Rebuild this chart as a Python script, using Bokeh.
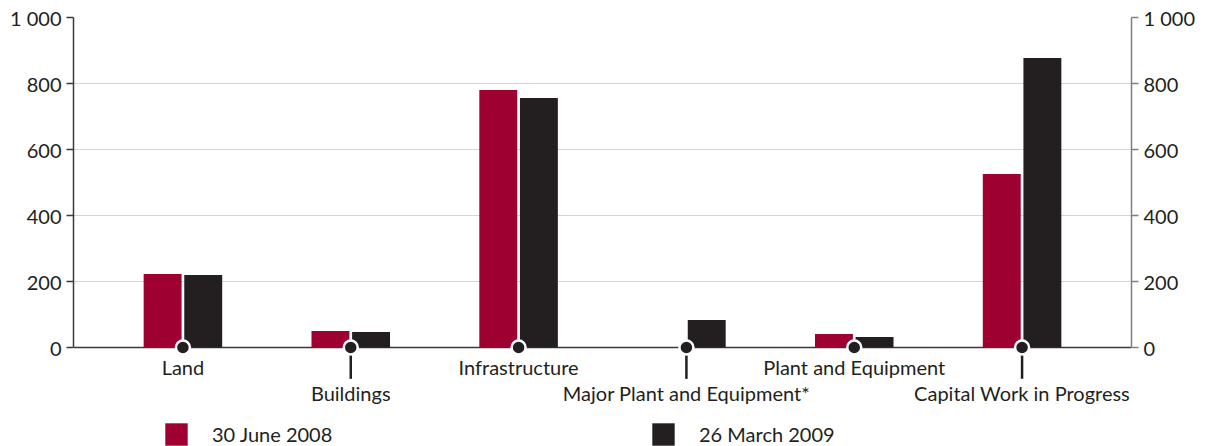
from bokeh.plotting import figure
from bokeh.models import (Range1d, LinearAxis, FixedTicker, Legend, Grid,
                          LegendItem, ColumnDataSource)
from bokeh.core.properties import value
from bokeh.embed import file_html
from bokeh.resources import INLINE

# Asset classes and their values ($ million) at the two reporting dates
categories = ["Land", "Buildings", "Infrastructure", "Major Plant and Equipment*",
              "Plant and Equipment", "Capital Work in Progress"]
june_2008 = [223, 50, 780, 0, 41, 526]
march_2009 = [220, 47, 756, 83, 32, 877]
series_names = ["30 June 2008", "26 March 2009"]
y_ticks = [0, 200, 400, 600, 800, 1000]
y_tick_labels = ["0", "200", "400", "600", "800", "1 000"]

RED = "#9e0031"
BLACK = "#231f20"
FONT = "Lato"
TEXT = "#231f20"
FS = "20px"

n = len(categories)
xs = list(range(n))
offset = 0.121
bar_w = 0.226

p = figure(width=1206, height=446, output_backend="svg", toolbar_location=None,
           x_axis_type=None, y_axis_location=None,
           x_range=Range1d(-0.652, n - 1 + 0.652),
           y_range=Range1d(-300, 1000),
           min_border_left=73, min_border_right=75,
           min_border_top=17, min_border_bottom=0)
p.outline_line_color = None
p.background_fill_color = "white"
p.border_fill_color = "white"
p.xgrid.visible = False
p.ygrid.visible = False

# horizontal gridlines above the baseline
grid = Grid(dimension=1, ticker=FixedTicker(ticks=y_ticks[1:]), bounds=(200, 1000),
            grid_line_color="#d4d4d4", grid_line_width=1.2)
p.add_layout(grid)

tick_map = {t: l for t, l in zip(y_ticks, y_tick_labels)}

def make_axis(line_color):
    return LinearAxis(bounds=(0, 1000), ticker=FixedTicker(ticks=y_ticks),
                      major_label_overrides=tick_map,
                      axis_line_color=line_color, axis_line_width=1.5,
                      major_tick_line_color=line_color, major_tick_line_width=1.5,
                      major_tick_out=7, major_tick_in=0,
                      minor_tick_line_color=None,
                      major_label_text_font=FONT, major_label_text_font_size=FS,
                      major_label_text_color=TEXT, major_label_standoff=5)

p.add_layout(make_axis("#3a3a3a"), "left")
p.add_layout(make_axis("#808080"), "right")

# baseline at zero
p.segment(x0=[-0.652], y0=[0], x1=[n - 1 + 0.652], y1=[0],
          line_color="#3a3a3a", line_width=1.5)

src = ColumnDataSource(dict(
    x=xs, cat=categories, a=june_2008, b=march_2009,
    xa=[x - offset for x in xs], xb=[x + offset for x in xs]))

r1 = p.vbar(x="xa", top="a", bottom=0, width=bar_w, source=src,
            fill_color=RED, line_color=None)
r2 = p.vbar(x="xb", top="b", bottom=0, width=bar_w, source=src,
            fill_color=BLACK, line_color=None)

# leader stems for the staggered (lower) labels
low = [i for i in xs if i % 2 == 1]
high = [i for i in xs if i % 2 == 0]
p.segment(x0=low, y0=[0] * len(low), x1=low, y1=[-95] * len(low),
          line_color=BLACK, line_width=2.5)

# category markers on the baseline
p.scatter(x=xs, y=[0] * n, size=14, marker="circle", fill_color=BLACK,
          line_color="white", line_width=2.5)

p.text(x=high, y=[-58] * len(high), text=[categories[i] for i in high],
       text_align="center", text_baseline="middle", text_font=value(FONT),
       text_font_size=FS, text_color=TEXT)
p.text(x=low, y=[-138] * len(low), text=[categories[i] for i in low],
       text_align="center", text_baseline="middle", text_font=value(FONT),
       text_font_size=FS, text_color=TEXT)

def legend_at(renderer, label, xpos):
    lg = Legend(items=[LegendItem(label=label, renderers=[renderer])],
                location=(xpos, -2), orientation="horizontal",
                glyph_width=28, glyph_height=28, label_standoff=22,
                padding=0, margin=0, spacing=0,
                border_line_color=None, background_fill_alpha=0,
                label_text_font=FONT, label_text_font_size=FS,
                label_text_color=TEXT, label_height=28)
    p.add_layout(lg, "center")

legend_at(r1, series_names[0], 89)
legend_at(r2, series_names[1], 576)

open("out.html", "w").write(file_html(p, INLINE))
